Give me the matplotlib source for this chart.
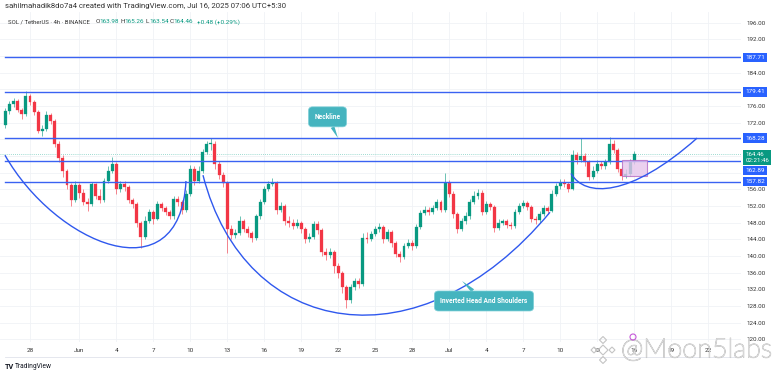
import matplotlib
matplotlib.use('Agg')
import matplotlib.pyplot as plt
import matplotlib.transforms as mtrans
import matplotlib.patheffects as pe
from matplotlib.path import Path
from matplotlib.patches import PathPatch, Rectangle, RegularPolygon, Circle
from matplotlib.lines import Line2D
import numpy as np

plt.rcParams['font.family'] = ['Roboto', 'DejaVu Sans']

# ---------------- data ----------------
# 8h candles, x in days relative to May 28 00:00
first_day = -2.0
candle_step = 1.0 / 3.0
first_open = 171.5
closes = [174.8, 176.5, 177.2, 175.0, 174.0, 178.5, 177.0, 174.5, 170.0, 170.5,
          173.8, 172.5, 167.0, 163.5, 160.5, 157.0, 153.5, 157.0, 155.2, 153.0,
          152.5, 157.2, 154.5, 153.5, 158.0, 160.5, 162.0, 156.0, 157.2, 156.5,
          153.5, 152.5, 148.0, 144.5, 148.5, 150.5, 149.0, 152.5, 151.5, 150.5,
          149.5, 153.8, 153.0, 151.0, 155.0, 161.0, 158.0, 160.5, 165.0, 166.8,
          167.0, 162.0, 159.5, 157.5, 146.5, 145.0, 145.5, 148.5, 146.5, 145.5,
          144.2, 149.5, 153.0, 156.0, 157.3, 157.6, 151.0, 152.0, 148.5, 148.0,
          147.2, 148.0, 146.5, 144.0, 144.5, 147.8, 146.2, 141.0, 140.2, 141.0,
          137.5, 136.0, 132.5, 129.5, 132.5, 134.0, 133.2, 144.3, 144.0, 145.2,
          146.5, 147.0, 144.0, 145.8, 143.0, 140.5, 139.8, 142.5, 143.0, 142.5,
          147.0, 150.3, 151.0, 150.5, 151.5, 153.0, 151.0, 157.5, 155.0, 150.0,
          146.5, 148.5, 149.5, 153.0, 154.5, 155.2, 150.5, 152.5, 151.8, 146.8,
          148.0, 148.3, 147.5, 147.2, 150.5, 152.0, 152.7, 151.8, 149.0, 148.6,
          150.0, 151.5, 150.8, 155.0, 156.8, 157.6, 157.2, 156.0, 164.3, 163.0,
          164.0, 162.5, 159.0, 160.5, 162.2, 161.5, 162.5, 166.8, 165.5, 161.0,
          159.3, 159.8, 162.5, 164.46]
highs = [175.5, 177.3, 178.0, 177.8, 175.6, 179.6, 179.0, 177.5, 175.0, 171.5,
         174.8, 174.3, 173.0, 167.5, 164.2, 161.0, 157.6, 158.0, 157.5, 156.0,
         154.0, 157.8, 157.5, 156.0, 158.8, 161.5, 163.8, 162.5, 158.0, 158.0,
         157.0, 154.0, 153.0, 148.5, 149.5, 151.2, 151.0, 153.2, 153.0, 152.0,
         151.0, 154.5, 154.3, 153.5, 155.8, 161.8, 161.5, 161.5, 165.8, 167.5,
         168.3, 167.5, 162.8, 160.2, 158.0, 147.5, 146.5, 149.5, 149.0, 147.2,
         146.0, 150.2, 153.8, 156.8, 158.0, 158.8, 158.0, 153.0, 152.5, 149.5,
         148.8, 149.0, 148.5, 147.0, 145.5, 148.5, 148.3, 146.8, 141.8, 142.0,
         141.5, 138.2, 136.5, 133.0, 133.2, 134.8, 134.6, 145.5, 145.8, 146.0,
         147.2, 148.0, 147.5, 146.5, 146.2, 143.5, 141.2, 143.2, 144.0, 143.8,
         147.8, 151.0, 152.0, 151.8, 152.2, 153.8, 153.5, 159.9, 158.2, 155.5,
         150.5, 149.2, 150.5, 153.8, 155.5, 156.0, 155.8, 153.2, 153.0, 152.2,
         148.8, 149.0, 149.0, 148.2, 151.2, 152.8, 153.5, 153.2, 152.2, 149.5,
         150.8, 152.2, 152.0, 155.8, 157.5, 158.6, 158.4, 157.8, 165.4, 165.0,
         168.3, 164.8, 163.0, 161.5, 163.0, 162.8, 163.2, 168.5, 167.8, 166.0,
         161.5, 160.8, 163.2, 165.26]
lows = [170.8, 174.2, 175.8, 174.5, 172.8, 173.6, 176.2, 173.8, 169.5, 168.8,
        170.0, 171.8, 166.2, 162.5, 159.0, 156.0, 152.0, 153.0, 154.0, 152.2,
        150.8, 152.0, 153.8, 152.8, 153.0, 157.5, 160.0, 155.0, 155.3, 155.6,
        152.8, 151.5, 147.0, 142.0, 144.0, 148.0, 147.8, 148.6, 150.8, 149.8,
        148.8, 149.0, 152.0, 150.2, 150.5, 154.5, 157.0, 157.5, 160.0, 164.5,
        165.5, 161.0, 158.5, 156.5, 140.7, 144.0, 144.2, 145.0, 145.8, 144.6,
        143.3, 143.8, 149.0, 152.5, 155.5, 156.8, 150.0, 150.5, 147.5, 147.0,
        146.5, 146.8, 145.5, 143.0, 143.4, 144.0, 145.2, 140.0, 139.0, 139.5,
        136.0, 134.8, 131.0, 127.6, 128.8, 131.8, 132.2, 132.8, 143.2, 143.5,
        144.8, 145.8, 143.2, 143.5, 142.2, 139.8, 138.6, 139.3, 141.8, 141.5,
        142.0, 146.5, 149.8, 149.8, 150.0, 151.0, 150.5, 150.6, 154.2, 149.2,
        145.5, 146.0, 147.8, 149.0, 152.5, 153.8, 149.8, 150.0, 151.0, 145.8,
        146.2, 147.5, 146.8, 146.5, 146.8, 150.0, 151.5, 151.0, 148.2, 147.8,
        148.0, 149.5, 150.0, 150.5, 154.5, 156.2, 156.5, 155.3, 155.8, 162.0,
        162.5, 161.5, 158.2, 158.5, 160.0, 160.8, 161.0, 162.0, 164.8, 160.2,
        158.3, 158.8, 159.2, 162.2]

tick_days = [0, 4, 7, 10, 13, 16, 19, 22, 25, 28, 31, 34, 37, 40, 43, 46, 49, 52, 55]
tick_labels = ['28', 'Jun', '4', '7', '10', '13', '16', '19', '22', '25',
               '28', 'Jul', '4', '7', '10', '13', '16', '19', '22']

grid_prices = list(range(120, 200, 4))
price_labels_shown = [196, 192, 184, 176, 172, 156, 152, 148, 144, 140, 136, 132, 128, 124, 120]

levels = [187.71, 179.41, 168.28, 162.89, 157.82]
level_label_offsets = [0, 0, 0, -7, 0]
last_price = 164.46
countdown = '02:21:46'

# drawn annotation curves (cubic Bezier control points: day, price)
left_shoulder = [(-2.03, 164.2), (2.03, 143.0), (12.17, 130.0), (12.65, 158.0)]
head_curve = [(14.03, 159.4), (17.44, 120.0), (31.63, 113.0), (42.17, 150.5)]
right_shoulder = [(43.88, 159.8), (45.01, 154.0), (48.66, 154.0), (54.10, 168.3)]

# purple box (day range, price range)
box_days = (48.01, 50.04)
box_prices = (159.2, 163.0)

neck_text, neck_tip, neck_box = 'Neckline', (24.98, 168.28), (24.13, 173.4)
ihs_text, ihs_tip, ihs_box = 'Inverted Head And Shoulders', (35.04, 134.0), (36.82, 129.2)

header1 = 'sahilmahadik8do7a4 created with TradingView.com, Jul 16, 2025 07:06 UTC+5:30'
symbol = 'SOL / TetherUS · 4h · BINANCE'
ohlc_keys = ['O', 'H', 'L', 'C']
ohlc_vals = ['163.98', '165.26', '163.54', '164.46']
change_txt = '+0.48 (+0.29%)'

# ---------------- style ----------------
W, H = 780, 376
UP = '#089981'
DOWN = '#f23645'
LINE = '#3a62f2'
CALLOUT = '#45b4bf'
TXT = '#333333'

fig = plt.figure(figsize=(W / 100, H / 100), dpi=100)
fig.patch.set_facecolor('white')
ax_left, ax_right, ax_top, ax_bot = 0, 741, 12, 342
ax = fig.add_axes([ax_left / W, 1 - ax_bot / H, (ax_right - ax_left) / W, (ax_bot - ax_top) / H])
ax.set_facecolor('white')

px_per_day = 12.33
x0_px = 30.0
ax.set_xlim((0 - x0_px) / px_per_day, (ax_right - x0_px) / px_per_day)
ppu = 4.166
ax.set_ylim(196 - (ax_bot - 22.7) / ppu, 196 + (22.7 - ax_top) / ppu)

for s in ax.spines.values():
    s.set_visible(False)

# grid
for gp in grid_prices:
    ax.axhline(gp, color='#f0f2f6', lw=0.6, zorder=0)
for td in tick_days:
    ax.axvline(td, color='#f0f2f6', lw=0.6, zorder=0)

# candles
closes_a = np.array(closes)
opens_a = np.concatenate([[first_open], closes_a[:-1]])
highs_a = np.array(highs)
lows_a = np.array(lows)
xs = first_day + candle_step * np.arange(len(closes_a))
up = closes_a >= opens_a
cols = np.where(up, UP, DOWN)
ax.vlines(xs, lows_a, highs_a, colors=cols, lw=0.6, alpha=0.7, zorder=2)
bot = np.minimum(opens_a, closes_a)
hgt = np.maximum(np.abs(closes_a - opens_a), 0.25)
ax.bar(xs, hgt, bottom=bot, width=0.24, color=cols, edgecolor=cols, lw=0.2, zorder=3)

# horizontal levels
for lv in levels:
    ax.plot([first_day, ax.get_xlim()[1]], [lv, lv], color=LINE, lw=1.0, zorder=4)
# last price dotted line
ax.axhline(last_price, color='#7fcfc2', lw=0.6, ls=(0, (1, 1.5)), zorder=1)

# curves
def bez(pts):
    codes = [Path.MOVETO, Path.CURVE4, Path.CURVE4, Path.CURVE4]
    return PathPatch(Path(pts, codes), fc='none', ec='#2f58ee', lw=1.0, zorder=5)

for c in (left_shoulder, head_curve, right_shoulder):
    ax.add_patch(bez(c))

# purple box
ax.add_patch(Rectangle((box_days[0], box_prices[0]), box_days[1] - box_days[0],
                       box_prices[1] - box_prices[0], fc='#e7c6ec', ec='#b56bc4',
                       lw=0.8, alpha=0.8, zorder=4))

# callouts
for txt, tip, bx in ((neck_text, neck_tip, neck_box), (ihs_text, ihs_tip, ihs_box)):
    ax.annotate(txt, xy=tip, xytext=bx, textcoords='data', ha='center', va='center',
                color='white', fontsize=4.8, fontweight='bold', zorder=7,
                bbox=dict(boxstyle='round,pad=0.9,rounding_size=0.6', fc=CALLOUT, ec='#7fd0d8', lw=0.5),
                arrowprops=dict(arrowstyle='wedge,tail_width=0.6,shrink_factor=0.5', fc=CALLOUT,
                                ec='none', shrinkA=0, shrinkB=0))

# right price axis
ax.yaxis.tick_right()
ax.set_yticks(price_labels_shown)
ax.set_yticklabels([f'{p:.2f}' for p in price_labels_shown])
ax.tick_params(axis='y', length=0, pad=4.3, labelsize=4.5, labelcolor=TXT)
ax.set_xticks(tick_days)
ax.set_xticklabels(tick_labels)
ax.tick_params(axis='x', length=0, pad=4.5, labelsize=4.6, labelcolor=TXT)

blend = mtrans.blended_transform_factory(ax.transAxes, ax.transData)
for lv, off in zip(levels, level_label_offsets):
    ax.annotate(f'{lv:.2f}', xy=(1, lv), xycoords=blend, xytext=(3.0, off),
                textcoords='offset points', ha='left', va='center', color='white',
                fontsize=4.6, annotation_clip=False, zorder=10,
                bbox=dict(boxstyle='square,pad=0.35', fc='#2962ff', ec='none'))
ax.annotate(f'{last_price:.2f}\n{countdown}', xy=(1, last_price), xycoords=blend,
            xytext=(3.0, -2.5), textcoords='offset points', ha='left', va='center',
            color='white', fontsize=4.4, linespacing=1.15, annotation_clip=False, zorder=11,
            bbox=dict(boxstyle='square,pad=0.35', fc=UP, ec='none'))

# time-axis separator
fig.add_artist(Line2D([5 / W, ax_right / W], [1 - 357 / H, 1 - 357 / H], color='#e0e3eb', lw=0.6))

# header
fig.text(5 / W, 1 - 6 / H, header1, fontsize=5.6, color=TXT, va='center', ha='left')
fig.text(8 / W, 1 - 21.7 / H, symbol, fontsize=4.3, color=TXT, va='center', ha='left')
key_x = [95.7, 120.7, 145.7, 170.0]
for k, v, kx in zip(ohlc_keys, ohlc_vals, key_x):
    fig.text(kx / W, 1 - 21.7 / H, k, fontsize=4.6, color=TXT, va='center', ha='left')
    fig.text((kx + 3.9) / W, 1 - 21.7 / H, v, fontsize=4.6, color=UP, va='center', ha='left')
fig.text(197.3 / W, 1 - 21.7 / H, change_txt, fontsize=4.6, color=UP, va='center', ha='left')

# TradingView logo
fig.text(5 / W, 1 - 367 / H, 'TV', fontsize=5.2, color='#131722', fontweight='bold', va='center', ha='left')
fig.text(15 / W, 1 - 367 / H, 'TradingView', fontsize=4.8, color='#131722', va='center', ha='left')

# watermark
wm = fig.text(621 / W, 1 - 350 / H, '@Moon5labs', fontsize=19.5, color='white', alpha=0.85,
              va='center', ha='left', family=['Lato', 'DejaVu Sans'], fontweight='light', zorder=20)
wm.set_path_effects([pe.Stroke(linewidth=0.8, foreground='#bdbdbd'), pe.Normal()])
idt = mtrans.IdentityTransform()
cx, cy = 603, H - 350
for dx, dy, r in ((0, 0, 5), (-9, 0, 3), (9, 0, 3), (0, -10, 3.5), (0, 10, 3.5)):
    fig.add_artist(RegularPolygon((cx + dx, cy + dy), 4, radius=r, orientation=0,
                                  fc='none', ec='#c4c4c4', lw=0.8, transform=idt, zorder=20))
fig.add_artist(Circle((633, H - 337), 3, fc='none', ec='#c659d9', lw=0.8, transform=idt, zorder=21))

fig.savefig('out.png', dpi=100, facecolor='white')
